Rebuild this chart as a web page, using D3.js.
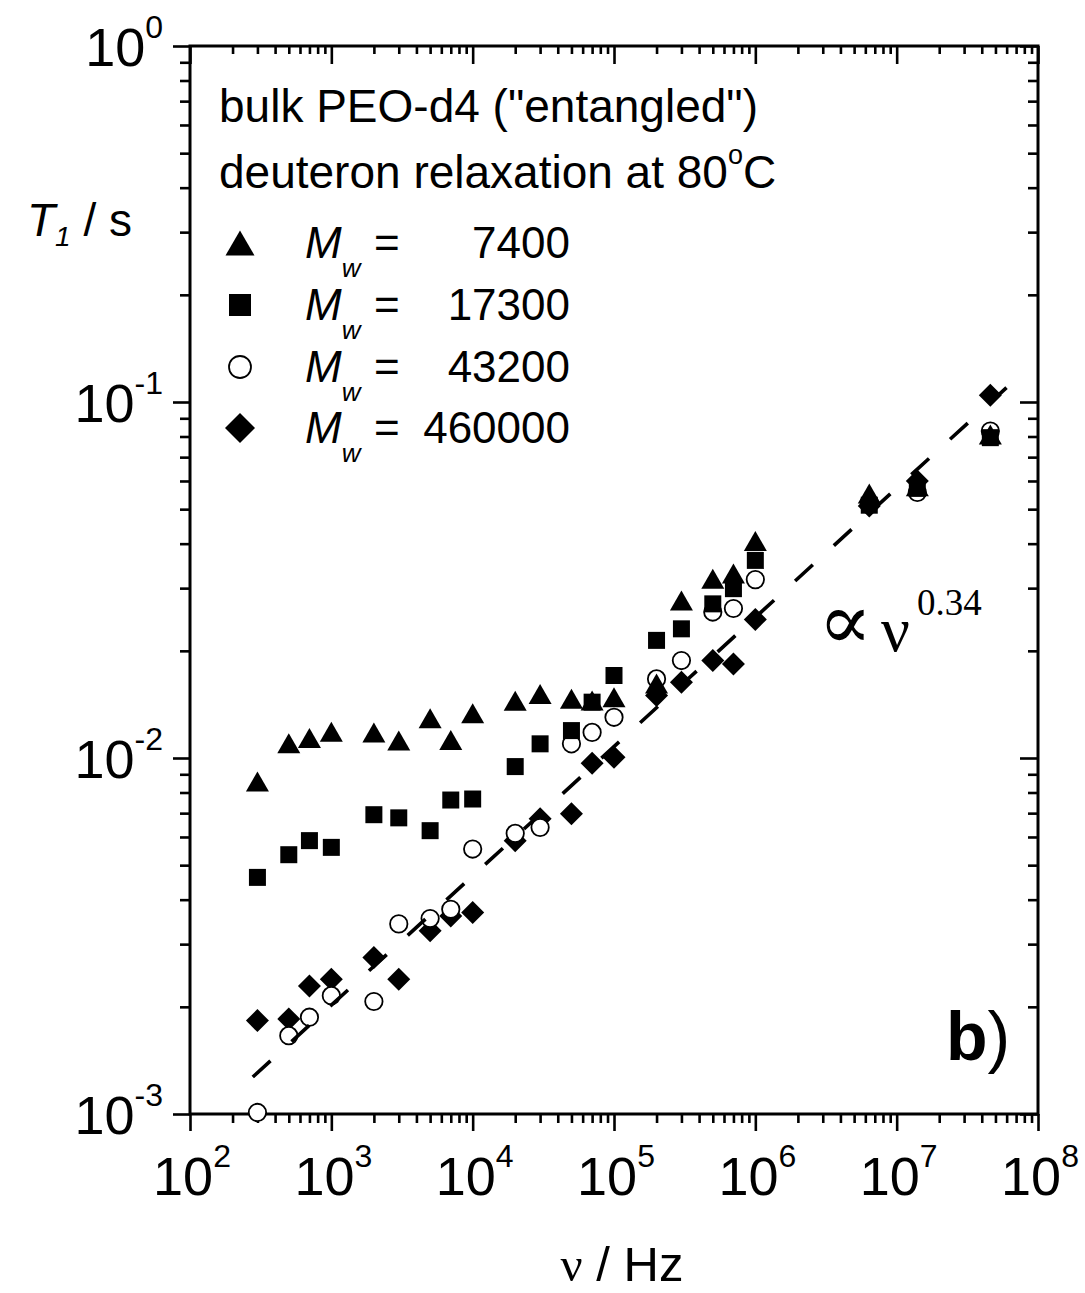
<!DOCTYPE html>
<html>
<head>
<meta charset="utf-8">
<script src="https://cdn.jsdelivr.net/npm/d3@7"></script>
<style>
  html, body { margin: 0; padding: 0; background: #fff; }
  svg text { font-family: "Liberation Sans", Arial, sans-serif; fill: #000; }
</style>
</head>
<body>
<div id="chart"></div>
<script>
// frequencies (Hz)
const freq = [300, 500, 700, 1e3, 2e3, 3e3, 5e3, 7e3, 1e4, 2e4, 3e4, 5e4, 7e4, 1e5,
              2e5, 3e5, 5e5, 7e5, 1e6, 6.4e6, 1.4e7, 4.6e7];

// T1 in s for each molecular weight
const t1_7400   = [0.00859, 0.0110, 0.01139, 0.01186, 0.0118, 0.0112, 0.01294, 0.01124, 0.01336, 0.01449, 0.01513, 0.01466, 0.0145, 0.01482,
                   0.0162, 0.0277, 0.0319, 0.0330, 0.0407, 0.0553, 0.058, 0.081];
const t1_17300  = [0.00462, 0.00535, 0.00586, 0.00561, 0.00693, 0.00679, 0.00625, 0.00762, 0.00767, 0.00946, 0.01096, 0.01194, 0.01435, 0.01705,
                   0.0214, 0.02306, 0.0271, 0.0299, 0.0359, 0.0513, 0.0572, 0.0794];
const t1_43200  = [0.00101, 0.00166, 0.00187, 0.00215, 0.00207, 0.00342, 0.00354, 0.00376, 0.00555, 0.00614, 0.00638, 0.01096, 0.0118, 0.01301,
                   0.01668, 0.01878, 0.0257, 0.0263, 0.0317, 0.052, 0.0557, 0.0829];
const t1_460000 = [0.00183, 0.00185, 0.00229, 0.00239, 0.00275, 0.00239, 0.00327, 0.0036, 0.00368, 0.00586, 0.00675, 0.00697, 0.00966, 0.01005,
                   0.01497, 0.01633, 0.0188, 0.01837, 0.0245, 0.051, 0.060, 0.1044];

// power law guide, T1 ~ nu^0.34
const fitNu = [278, 6.24e7];
const fitT1 = [0.00127, 0.1114];

const mwLabels = ["7400", "17300", "43200", "460000"];
const xDecades = [2, 3, 4, 5, 6, 7, 8];
const yDecades = [0, -1, -2, -3];

(() => {
const width = 1085, height = 1293;
const pL = 190, pR = 1038, pT = 46, pB = 1114;

const svg = d3.select("#chart").append("svg")
    .attr("width", width).attr("height", height);
svg.append("rect").attr("width", width).attr("height", height).attr("fill", "#fff");

const x = d3.scaleLog().domain([1e2, 1e8]).range([pL, pR]);
const y = d3.scaleLog().domain([1e-3, 1]).range([pB, pT]);

const xMajor = xDecades.map(k => Math.pow(10, k));
const yMajor = yDecades.map(k => Math.pow(10, k));
const xMinor = [], yMinor = [];
for (let k = 2; k < 8; k++) for (let m = 2; m <= 9; m++) xMinor.push(m * Math.pow(10, k));
for (let k = -3; k < 0; k++) for (let m = 2; m <= 9; m++) yMinor.push(m * Math.pow(10, k));

// axes: left/bottom ticks out, top/right ticks in
function addAxis(axisFn, scale, vals, size, tx, ty) {
    const g = svg.append("g")
        .attr("transform", `translate(${tx},${ty})`)
        .call(axisFn(scale).tickValues(vals).tickSize(size).tickFormat(""));
    g.select(".domain").remove();
    g.selectAll("line").attr("stroke", "#000").attr("stroke-width", 2.6);
}
addAxis(d3.axisBottom, x, xMajor, 17, 0, pB);
addAxis(d3.axisBottom, x, xMinor, 9, 0, pB);
addAxis(d3.axisTop, x, xMajor, -18, 0, pT);
addAxis(d3.axisTop, x, xMinor, -8, 0, pT);
addAxis(d3.axisLeft, y, yMajor, 17, pL, 0);
addAxis(d3.axisLeft, y, yMinor, 10, pL, 0);
addAxis(d3.axisRight, y, yMajor, -18, pR, 0);
addAxis(d3.axisRight, y, yMinor, -10, pR, 0);

svg.append("rect")
    .attr("x", pL).attr("y", pT)
    .attr("width", pR - pL).attr("height", pB - pT)
    .attr("fill", "none").attr("stroke", "#000").attr("stroke-width", 3);

// tick labels
xDecades.forEach(k => {
    const t = svg.append("text")
        .attr("x", x(Math.pow(10, k)) + 2).attr("y", 1195)
        .attr("text-anchor", "middle").style("font-size", "54px");
    t.append("tspan").text("10");
    t.append("tspan").attr("dy", -28).style("font-size", "32px").text(k);
});
yDecades.forEach(k => {
    const t = svg.append("text")
        .attr("x", 163).attr("y", y(Math.pow(10, k)) + 20)
        .attr("text-anchor", "end").style("font-size", "54px");
    t.append("tspan").text("10");
    t.append("tspan").attr("dy", -28).style("font-size", "32px").text(k === 0 ? "0" : "-" + (-k));
});

// axis titles
const yt = svg.append("text").attr("x", 132).attr("y", 236)
    .attr("text-anchor", "end").style("font-size", "46px");
yt.append("tspan").style("font-style", "italic").text("T");
yt.append("tspan").attr("dy", 10).style("font-style", "italic").style("font-size", "28px").text("1");
yt.append("tspan").attr("dy", -10).text(" / s");

const xt = svg.append("text").attr("x", 622).attr("y", 1281)
    .attr("text-anchor", "middle").style("font-size", "49px");
xt.append("tspan").style("font-family", "'Liberation Serif', 'DejaVu Serif', serif").text("ν");
xt.append("tspan").text(" / Hz");

// markers
function shapePath(shape, s) {
    if (shape === "tri") return `M0,${-s.h / 2}L${s.w / 2},${s.h / 2}L${-s.w / 2},${s.h / 2}Z`;
    if (shape === "sq") return `M${-s.a / 2},${-s.a / 2}h${s.a}v${s.a}h${-s.a}Z`;
    if (shape === "dia") return `M0,${-s.d}L${s.d},0L0,${s.d}L${-s.d},0Z`;
    return null;
}
const plotSize = { tri: { w: 23, h: 20 }, sq: { a: 17 }, dia: { d: 11.5 }, circ: { r: 8.7 } };
const legSize = { tri: { w: 29, h: 25 }, sq: { a: 22 }, dia: { d: 15 }, circ: { r: 11 } };

function drawMarker(g, shape, s, cx, cy) {
    if (shape === "circ") {
        g.append("circle").attr("cx", cx).attr("cy", cy).attr("r", s.r)
            .attr("fill", "#fff").attr("stroke", "#000").attr("stroke-width", 1.8);
    } else {
        g.append("path").attr("d", shapePath(shape, s))
            .attr("transform", `translate(${cx},${cy})`).attr("fill", "#000");
    }
}

const series = [
    { shape: "dia", vals: t1_460000 },
    { shape: "circ", vals: t1_43200 },
    { shape: "tri", vals: t1_7400 },
    { shape: "sq", vals: t1_17300 }
];
const marks = svg.append("g");
series.forEach(sr => {
    sr.vals.forEach((v, i) => drawMarker(marks, sr.shape, plotSize[sr.shape], x(freq[i]), y(v)));
});

// dashed power law
svg.append("path")
    .attr("d", d3.line().x((d, i) => x(fitNu[i])).y(d => y(d))(fitT1))
    .attr("fill", "none").attr("stroke", "#000").attr("stroke-width", 3.6)
    .attr("stroke-dasharray", "24,28.5");

svg.append("text").attr("x", 818).attr("y", 649)
    .style("font-family", "'DejaVu Serif', serif").style("font-size", "80px").text("∝");
svg.append("text").attr("x", 881).attr("y", 651)
    .style("font-family", "'Liberation Serif', serif").style("font-size", "64px").text("ν");
svg.append("text").attr("x", 917).attr("y", 615)
    .style("font-family", "'Liberation Serif', serif").style("font-size", "37px").text("0.34");

// legend
svg.append("text").attr("x", 219).attr("y", 122).style("font-size", "46px")
    .text('bulk PEO-d4 ("entangled")');
const l2 = svg.append("text").attr("x", 219).attr("y", 188).style("font-size", "46px");
l2.append("tspan").text("deuteron relaxation at 80");
l2.append("tspan").attr("dy", -24).style("font-size", "27px").text("o");
l2.append("tspan").attr("dy", 24).text("C");

const legShapes = ["tri", "sq", "circ", "dia"];
const legBase = [258, 320, 382, 443];
mwLabels.forEach((lab, i) => {
    drawMarker(svg, legShapes[i], legSize[legShapes[i]], 240, legBase[i] - 15);
    const t = svg.append("text").attr("x", 305).attr("y", legBase[i]).style("font-size", "44px");
    t.append("tspan").style("font-style", "italic").text("M");
    t.append("tspan").attr("dy", 19).style("font-style", "italic").style("font-size", "26px").text("w");
    svg.append("text").attr("x", 374).attr("y", legBase[i]).style("font-size", "44px").text("=");
    svg.append("text").attr("x", 570).attr("y", legBase[i]).attr("text-anchor", "end")
        .style("font-size", "44px").text(lab);
});

// panel label
const pl = svg.append("text").attr("x", 946).attr("y", 1060).style("font-size", "68px");
pl.append("tspan").style("font-weight", "bold").text("b");
pl.append("tspan").text(")");
})();
</script>
</body>
</html>
